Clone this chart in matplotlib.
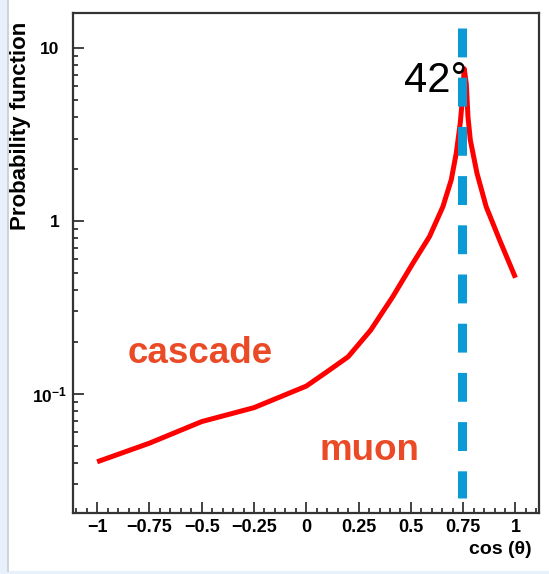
import matplotlib
matplotlib.use("Agg")
import matplotlib.pyplot as plt
from matplotlib.ticker import FixedLocator, MultipleLocator, LogLocator, NullFormatter
from matplotlib.patches import Rectangle
from matplotlib.lines import Line2D
import matplotlib.transforms as mtransforms

# ---- data ----
cos_theta = [-1.0, -0.75, -0.5, -0.25, 0.0, 0.1, 0.2, 0.308, 0.414, 0.51, 0.589, 0.653,
             0.693, 0.717, 0.736, 0.746, 0.755, 0.765, 0.773, 0.784, 0.816, 0.86, 0.924, 1.0]
prob = [0.0405, 0.0519, 0.0692, 0.0833, 0.111, 0.1346, 0.164, 0.234, 0.366, 0.571, 0.813, 1.21,
        1.73, 2.47, 3.68, 5.03, 7.6, 6.2, 4.0, 2.95, 1.89, 1.21, 0.778, 0.47]
cherenkov_cos = 0.746
xtick_vals = [-1, -0.75, -0.5, -0.25, 0, 0.25, 0.5, 0.75, 1]
xtick_labels = ["\u22121", "\u22120.75", "\u22120.5", "\u22120.25", "0", "0.25", "0.5", "0.75", "1"]
ytick_vals = [0.1, 1, 10]
ytick_labels = [r"$\mathbf{10^{-1}}$", "1", "10"]

plt.rcParams['font.family'] = ['Liberation Sans', 'DejaVu Sans']
plt.rcParams['mathtext.fontset'] = 'custom'
plt.rcParams['mathtext.bf'] = 'Liberation Sans:bold'
plt.rcParams['mathtext.rm'] = 'Liberation Sans'

fig = plt.figure(figsize=(5.49, 5.74), dpi=100)
fig.patch.set_facecolor('white')

# light blue frame strips
fig.patches.append(Rectangle((0, 0), 7/549, 1, transform=fig.transFigure,
                             facecolor='#e8f1fb', edgecolor='none', zorder=0))
fig.patches.append(Rectangle((0, 0), 1, 3.5/574, transform=fig.transFigure,
                             facecolor='#e8f1fb', edgecolor='none', zorder=0))
fig.lines.append(Line2D([7.5/549, 7.5/549], [3.5/574, 1], transform=fig.transFigure,
                        color='#c5ccd3', lw=1.2))

ax = fig.add_axes([73.3/549, 1 - 513.3/574, 466/549, 500/574])
ax.set_yscale('log')
ax.set_xlim(-1.114, 1.114)
ax.set_ylim(0.0204, 15.9)

ax.plot(cos_theta, prob, color='#ff0000', lw=3.6, solid_joinstyle='round',
        solid_capstyle='butt', zorder=3)

trans = mtransforms.blended_transform_factory(ax.transData, ax.transAxes)
ax.plot([cherenkov_cos, cherenkov_cos], [0.97, 0.0306], transform=trans,
        color='#0a9bd7', lw=6.5, linestyle=(0, (3.2, 2.25)), dash_capstyle='butt', zorder=4)

ax.text(0.466, 5.61, "42\u00b0", fontsize=30, color='black', ha='left', va='baseline', zorder=5)
ax.text(-0.855, 0.1507, "cascade", fontsize=26.5, fontweight='bold', color='#ea4a26',
        ha='left', va='baseline')
ax.text(0.0655, 0.0415, "muon", fontsize=26.5, fontweight='bold', color='#ea4a26',
        ha='left', va='baseline')

# ticks
ax.xaxis.set_major_locator(FixedLocator(xtick_vals))
ax.set_xticklabels(xtick_labels)
ax.xaxis.set_minor_locator(MultipleLocator(0.05))
ax.yaxis.set_major_locator(FixedLocator(ytick_vals))
ax.set_yticklabels(ytick_labels)
ax.yaxis.set_minor_locator(LogLocator(base=10, subs=range(2, 10)))
ax.yaxis.set_minor_formatter(NullFormatter())

ax.tick_params(which='both', direction='in', top=False, right=False, width=1.2, color='#222222')
ax.tick_params(which='major', length=7.7)
ax.tick_params(which='minor', length=3.9)
ax.tick_params(axis='x', which='major', pad=4, labelsize=13)
ax.tick_params(axis='y', which='major', pad=10, labelsize=12.5)
for lab in ax.get_xticklabels() + ax.get_yticklabels():
    lab.set_fontweight('bold')

# shift the 10^-1 label so that its superscript reaches toward the axis (as in ROOT)
ylabs = ax.get_yticklabels()
ylabs[0].set_transform(ylabs[0].get_transform() +
                       mtransforms.ScaledTranslation(8/100, 0, fig.dpi_scale_trans))

for s in ax.spines.values():
    s.set_linewidth(1.6)
    s.set_color('#333333')

fig.text(20.5/549, 1 - 126/574, "Probability function", rotation=90, fontsize=16,
         fontweight='bold', ha='center', va='center')
fig.text(531.7/549, 1 - 550/574, "cos (\u03b8)", fontsize=14, fontweight='bold',
         ha='right', va='center')

fig.savefig("out.png", dpi=100)
